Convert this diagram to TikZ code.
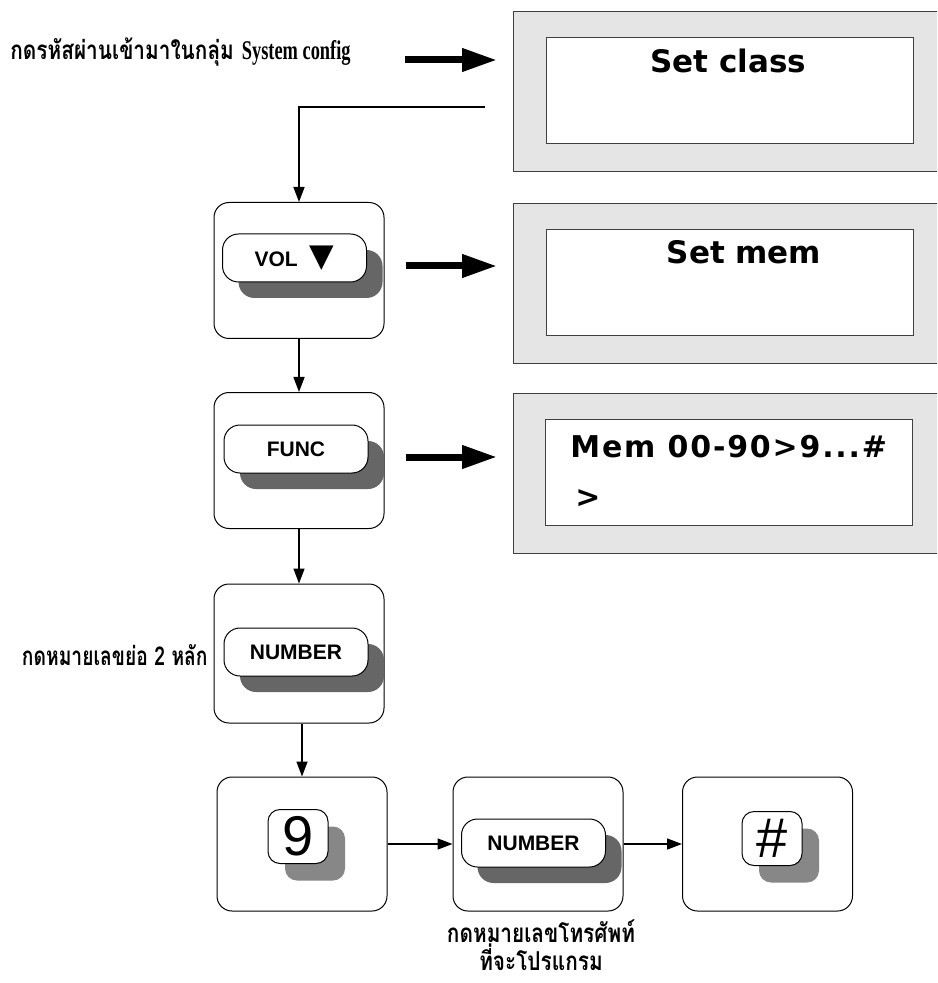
\documentclass[tikz,border=0pt]{standalone}
\usepackage{fontspec}
\usepackage{graphicx}
\setmainfont{Liberation Serif}
\newfontfamily\thaifont[Script=Thai]{Loma}
\newfontfamily\dvs{DejaVu Sans}
\newfontfamily\dvsw[LetterSpace=6]{DejaVu Sans}
\newfontfamily\arialf{Liberation Sans}
\usetikzlibrary{arrows.meta,shadows}
\begin{document}
\begin{tikzpicture}[x=0.5pt,y=-0.5pt,
 panel/.style={draw=black, line width=0.5pt, rounded corners=7.5pt, fill=white, minimum width=85pt, minimum height=68pt, inner sep=0pt},
 btn/.style={draw=black, line width=0.5pt, rounded corners=8pt, fill=white, minimum width=72pt, minimum height=24pt, inner sep=0pt,
   font=\arialf\bfseries\fontsize{10.5}{12}\selectfont,
   drop shadow={shadow xshift=8pt, shadow yshift=-8pt, fill=black!60, opacity=1, draw=none}},
 keybtn/.style={draw=black, line width=0.5pt, rounded corners=6pt, fill=white, minimum width=30pt, minimum height=27pt, inner sep=0pt,
   font=\arialf\fontsize{28}{30}\selectfont,
   drop shadow={shadow xshift=8.5pt, shadow yshift=-8.5pt, fill=black!47, opacity=1, draw=none}},
 outerdisp/.style={fill=black!10, draw=black!75, line width=0.5pt, minimum width=223.5pt, minimum height=80pt, inner sep=0pt, anchor=north west},
 innerdisp/.style={fill=white, draw=black!75, line width=0.5pt, minimum width=183.5pt, minimum height=53pt, inner sep=0pt},
 disptext/.style={font=\dvs\bfseries\fontsize{15.5}{18}\selectfont, inner sep=0pt},
 memtext/.style={font=\dvsw\bfseries\fontsize{15}{18}\selectfont, inner sep=0pt},
 thinarrow/.style={line width=0.75pt, -{Triangle[length=7.5pt,width=5.5pt]}},
 bigarrow/.style={line width=3.5pt, -{Triangle[length=17.5pt,width=11pt]}, shorten >=8pt},
 thai/.style={font=\thaifont\bfseries\fontsize{13}{14}\selectfont, inner sep=0pt}
]
\useasboundingbox (0,0) rectangle (937,983);
\fill[white] (0,0) rectangle (937,983);
% displays
\begin{scope}
\clip (0,0) rectangle (937,983);
\node[outerdisp] (o1) at (513,11) {};
\node[outerdisp] (o2) at (513,203) {};
\node[outerdisp] (o3) at (513,393) {};
\end{scope}
\node[innerdisp] (d1) at (729.5,91) {};
\node[innerdisp] (d2) at (729.5,282.5) {};
\node[innerdisp] (d3) at (728.5,472.5) {};
\node[disptext, anchor=base] (t1) at (728,73) {Set class};
\node[disptext, anchor=base] (t2) at (744,264) {Set mem};
\node[memtext, anchor=base west] (t3) at (570,457) {Mem 00-90>9...\#};
\node[memtext, anchor=base west] (t4) at (575,507) {>};
% labels
\node[thai, anchor=west] (lab1) at (10,52) {\scalebox{0.8}[1]{กดรหัสผ่านเข้ามาในกลุ่ม}\hspace{4pt}\scalebox{0.68}[1]{\rmfamily\fontsize{13.5}{14}\selectfont System config}};
\node[thai, anchor=east] (lab2) at (208,655) {\scalebox{0.74}[1]{กดหมายเลขย่อ 2 หลัก}};
\node[thai, align=center] (lab3) at (541,945) {\scalebox{0.8}[1]{กดหมายเลขโทรศัพท์}\\\scalebox{0.8}[1]{ที่จะโปรแกรม}};
% panels
\node[panel] (p1) at (299,270.5) {};
\node[panel] (p2) at (299,460.5) {};
\node[panel, minimum height=69.5pt] (p3) at (299,653.5) {};
\node[panel, minimum height=67pt] (p4) at (302,844) {};
\node[panel, minimum height=67pt] (p5) at (538,844) {};
\node[panel, minimum height=67pt] (p6) at (767.5,844) {};
% buttons
\node[btn] (b1) at (294.5,258) {VOL\hspace{6pt}{\dvs\fontsize{16}{16}\selectfont ▼}};
\node[btn] (b2) at (296,449) {FUNC};
\node[btn] (b3) at (296,652) {NUMBER};
\node[btn] (b5) at (533.5,843) {NUMBER};
\node[keybtn] (k4) at (298,836.5) {9};
\node[keybtn] (k6) at (772,838.5) {\#};
% connectors
\coordinate (c0) at (485,107);
\draw[thinarrow] (c0) -- (c0 -| p1.north) -- (p1.north);
\draw[thinarrow] (p1.south) -- (p2.north);
\draw[thinarrow] (p2.south) -- (p3.north);
\draw[thinarrow] (p3.south -| p4.north) -- (p4.north);
\draw[thinarrow] (p4.east) -- (p5.west);
\draw[thinarrow] (p5.east) -- (p6.west);
\coordinate (a1) at (405,60);
\coordinate (a2) at (406,266);
\coordinate (a3) at (406,457);
\draw[bigarrow] (a1) -- (a1 -| o1.west);
\draw[bigarrow] (a2) -- (a2 -| o2.west);
\draw[bigarrow] (a3) -- (a3 -| o3.west);
\end{tikzpicture}
\end{document}
